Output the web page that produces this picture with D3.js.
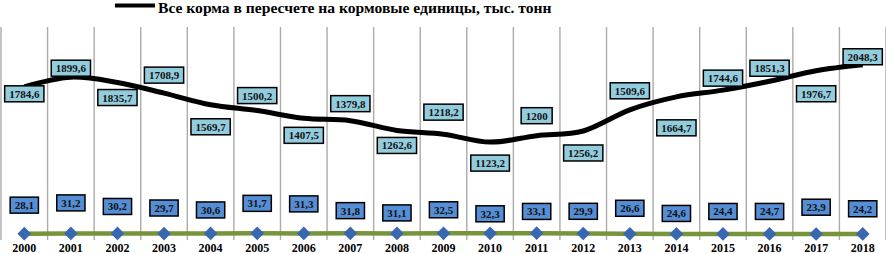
<!DOCTYPE html>
<html>
<head>
<meta charset="utf-8">
<script src="https://cdn.jsdelivr.net/npm/d3@7"></script>
<style>
    body { margin: 0; background: #fff; }
    svg { display: block; }
    svg text { font-family: "Liberation Serif", "Times New Roman", "DejaVu Serif", serif; font-weight: bold; }
</style>
</head>
<body>
<div id="chart"></div>
<script>
const years = ["2000", "2001", "2002", "2003", "2004", "2005", "2006", "2007", "2008", "2009",
    "2010", "2011", "2012", "2013", "2014", "2015", "2016", "2017", "2018"];

// все корма в пересчете на кормовые единицы, тыс. тонн
const feedUnits = [1784.6, 1899.6, 1835.7, 1708.9, 1569.7, 1500.2, 1407.5, 1379.8, 1262.6, 1218.2,
    1123.2, 1200, 1256.2, 1509.6, 1664.7, 1744.6, 1851.3, 1976.7, 2048.3];

// second series (markers only near the bottom)
const secondSeries = [28.1, 31.2, 30.2, 29.7, 30.6, 31.7, 31.3, 31.8, 31.1, 32.5,
    32.3, 33.1, 29.9, 26.6, 24.6, 24.4, 24.7, 23.9, 24.2];

const legendLabel = "Все корма в пересчете на кормовые единицы, тыс. тонн";

// hand-placed data labels (vertical shift from the point, px)
const feedLabelDy = [7, -9, 15, -18, 22, -15, 17, -17, 15, -22, 21, -20, 22, -19, 31, -12, -13, 23, -8];
const secondLabelDy = [-28.5, -30.5, -27, -25.5, -23.5, -30, -29.5, -22.7, -20.5, -23.5,
    -19.5, -21.8, -22.2, -25.5, -20.5, -22.5, -22.5, -26.8, -25.2];

const width = 886, height = 254;

const svg = d3.select("#chart")
    .append("svg")
    .attr("width", width)
    .attr("height", height);

const x = d3.scaleBand()
    .domain(years)
    .range([1, 886]);

const y = d3.scaleLinear()
    .domain([0, 2500])
    .range([236, 27]);

const cx = d => x(d) + x.bandwidth() / 2;

// vertical gridlines at category boundaries
const bounds = years.map(d => x(d)).concat([x(years[years.length - 1]) + x.step()]);
svg.append("g")
    .selectAll("line")
    .data(bounds)
    .enter()
    .append("line")
    .attr("x1", d => d)
    .attr("x2", d => d)
    .attr("y1", y(2500))
    .attr("y2", y(0) + 4)
    .attr("stroke", "#ababab")
    .attr("stroke-width", 1.4);

// year labels
svg.append("g")
    .selectAll("text")
    .data(years)
    .enter()
    .append("text")
    .attr("x", d => cx(d))
    .attr("y", 252)
    .attr("text-anchor", "middle")
    .style("font-size", "12px")
    .text(d => d);

// second series: green line + diamonds
const second = years.map((d, i) => ({year: d, value: secondSeries[i], dy: secondLabelDy[i]}));

svg.append("path")
    .datum(second)
    .attr("fill", "none")
    .attr("stroke", "#77933c")
    .attr("stroke-width", 4.5)
    .attr("d", d3.line().x(d => cx(d.year)).y(d => y(d.value)));

svg.append("g")
    .selectAll("path")
    .data(second)
    .enter()
    .append("path")
    .attr("transform", d => `translate(${cx(d.year)},${y(d.value)})`)
    .attr("d", d3.symbol().type(d3.symbolDiamond2).size(120))
    .attr("fill", "#3a68b0");

// main smoothed line
const feed = years.map((d, i) => ({year: d, value: feedUnits[i], dy: feedLabelDy[i]}));

svg.append("path")
    .datum(feed)
    .attr("fill", "none")
    .attr("stroke", "#000")
    .attr("stroke-width", 5)
    .attr("stroke-linejoin", "round")
    .attr("d", d3.line()
        .x(d => cx(d.year))
        .y(d => y(d.value))
        .curve(d3.curveCatmullRom.alpha(0)));

// boxed data labels
function addLabels(data, fill) {
    const g = svg.append("g")
        .selectAll("g")
        .data(data)
        .enter()
        .append("g")
        .attr("transform", d => `translate(${cx(d.year)},${y(d.value) + d.dy})`);

    g.append("rect")
        .attr("fill", fill)
        .attr("stroke", "#000")
        .attr("stroke-width", 1.5);

    const text = g.append("text")
        .attr("text-anchor", "middle")
        .attr("y", 4)
        .style("font-size", "11px")
        .attr("fill", "#111")
        .text(d => String(d.value).replace(".", ","));

    text.each(function () {
        const w = this.getComputedTextLength() + 9;
        d3.select(this.parentNode).select("rect")
            .attr("x", -w / 2)
            .attr("y", -8)
            .attr("width", w)
            .attr("height", 16);
    });
}

addLabels(feed, "#93cddd");
addLabels(second, "#558ed5");

// legend
svg.append("line")
    .attr("x1", 115)
    .attr("x2", 155)
    .attr("y1", 5.5)
    .attr("y2", 5.5)
    .attr("stroke", "#000")
    .attr("stroke-width", 4);

svg.append("text")
    .attr("x", 158)
    .attr("y", 12.5)
    .style("font-size", "15.6px")
    .text(legendLabel);
</script>
</body>
</html>
